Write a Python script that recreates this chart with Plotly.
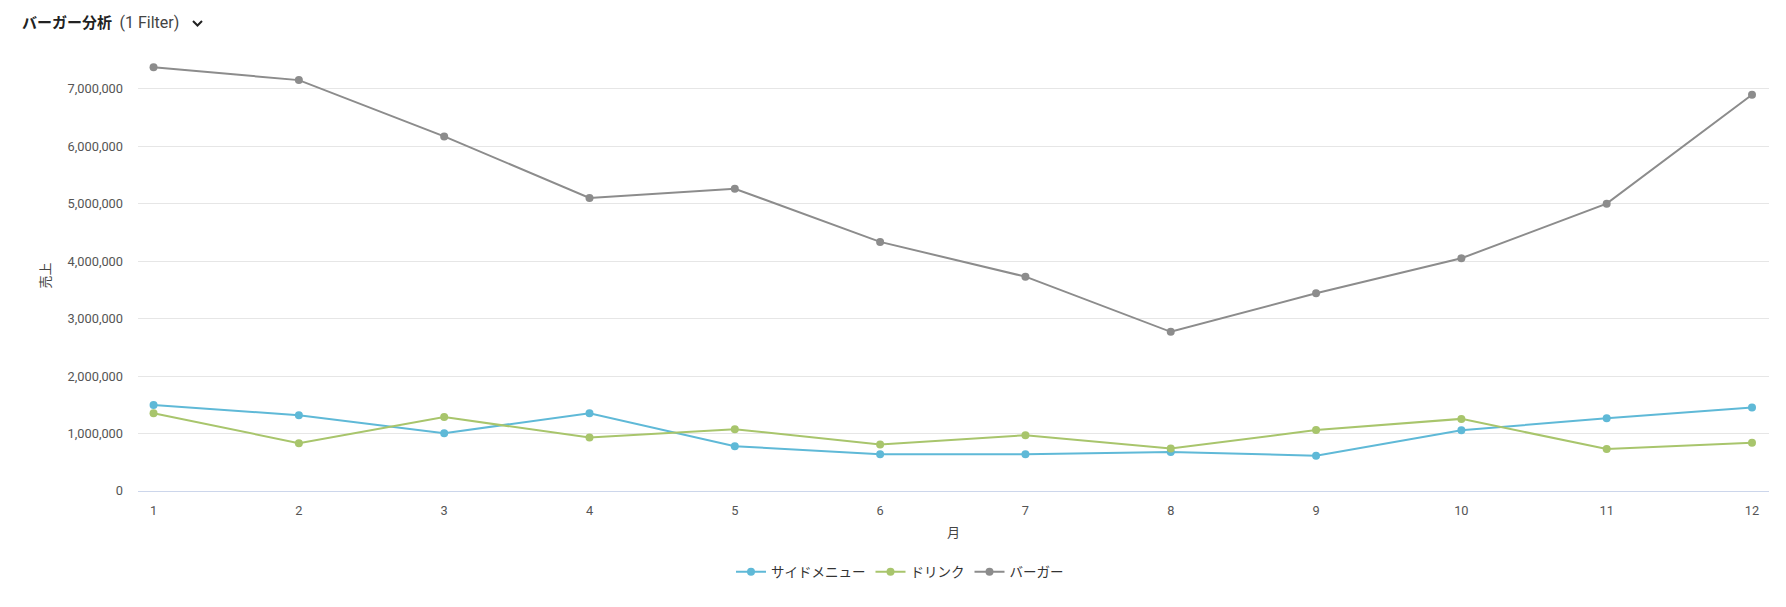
import plotly.graph_objects as go

months = [1, 2, 3, 4, 5, 6, 7, 8, 9, 10, 11, 12]
series_names = ["サイドメニュー", "ドリンク", "バーガー"]
side_menu = [1497000, 1320000, 1006000, 1354000, 780000, 640000, 640000, 680000, 615000, 1056000, 1267000, 1453000]
drink = [1354000, 832000, 1286000, 930000, 1075000, 810000, 970000, 740000, 1060000, 1255000, 730000, 840000]
burger = [7372000, 7150000, 6170000, 5100000, 5260000, 4335000, 3730000, 2770000, 3440000, 4050000, 5000000, 6895000]
y_ticks = [0, 1000000, 2000000, 3000000, 4000000, 5000000, 6000000, 7000000]
colors = ["#5fb9d7", "#a8c56c", "#8c8c8c"]

fig = go.Figure()
for name, vals, col in zip(series_names, [side_menu, drink, burger], colors):
    fig.add_trace(go.Scatter(
        x=months, y=vals, name=name, mode="lines+markers",
        line=dict(color=col, width=2),
        marker=dict(color=col, size=8),
    ))

PW, PH = 1631, 431

fig.update_layout(
    width=1786, height=607,
    margin=dict(l=138, r=17, t=60, b=116, autoexpand=False),
    paper_bgcolor="white", plot_bgcolor="white",
    font=dict(family="Roboto, 'Noto Sans CJK JP', sans-serif", size=12, color="#666666"),
    showlegend=True,
    legend=dict(orientation="h", x=(900 - 138) / PW, xanchor="center", y=(491 - 572) / PH, yanchor="middle",
                font=dict(size=13.5, color="#333333"), itemwidth=30),
    xaxis=dict(
        range=[0.893, 12.117], tickmode="array", tickvals=months,
        showgrid=False, zeroline=False, showline=True, linecolor="#ccd6eb", linewidth=1,
        ticks="", ticklabelstandoff=8, tickfont=dict(size=12.8, color="#555555"),
        title=dict(text="月", font=dict(size=13, color="#444444"), standoff=10),
    ),
    yaxis=dict(
        range=[0, 7500000], tickmode="array", tickvals=y_ticks,
        tickformat=",d", showgrid=True, gridcolor="#e6e6e6", gridwidth=1,
        zeroline=False, showline=False, ticks="", ticklabelstandoff=14,
        tickfont=dict(size=12.8, color="#555555"),
        title=dict(text="売上", font=dict(size=13, color="#444444"), standoff=14),
    ),
)

fig.add_annotation(
    xref="paper", yref="paper", x=(20 - 138) / PW, y=1 + (60 - 23) / PH, xanchor="left", yanchor="middle",
    text="<b>バーガー分析</b>  <span style='color:#444444;font-size:16px'>(1 Filter)</span>",
    showarrow=False, font=dict(size=15, color="#222222"),
)
fig.add_shape(
    type="path", xref="paper", yref="paper",
    xsizemode="pixel", ysizemode="pixel",
    xanchor=(193 - 138) / PW, yanchor=1 + (60 - 23) / PH,
    path="M 0 2 L 4.5 -2.5 L 9 2",
    line=dict(color="#222222", width=2),
)

fig.write_html("out.html")
